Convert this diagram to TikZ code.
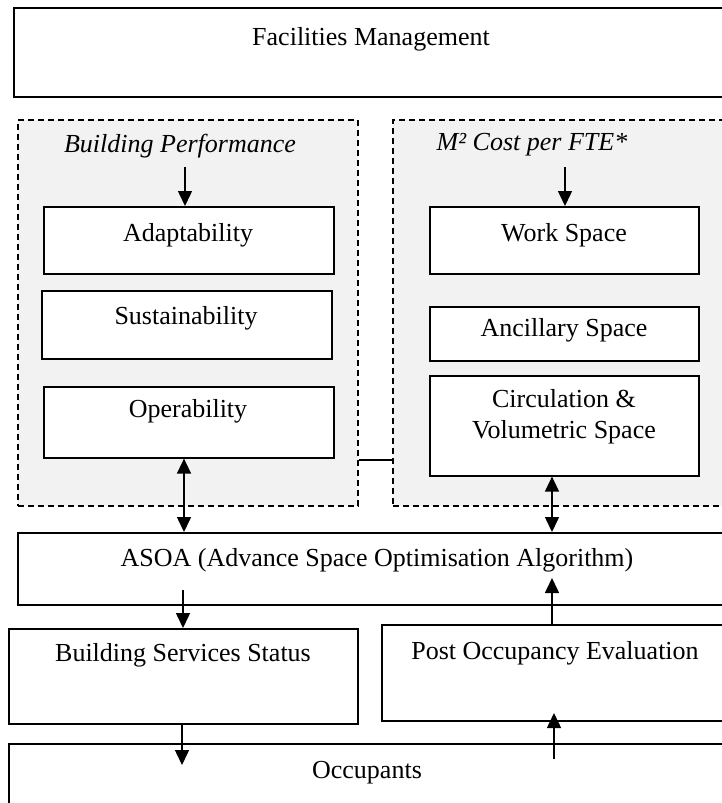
\documentclass[tikz,border=0pt]{standalone}
\usepackage{fontspec}
\setmainfont{Liberation Serif}
\usetikzlibrary{arrows.meta}
\definecolor{grpgray}{HTML}{F2F2F2}
\begin{document}
\begin{tikzpicture}[x=1pt,y=-1pt,
  box/.style={draw=black, fill=white, line width=1.6pt, anchor=north west, inner sep=0pt, rectangle},
  grp/.style={draw=black, fill=grpgray, line width=1.6pt, dash pattern=on 6pt off 4pt, anchor=north west, inner sep=0pt, rectangle},
  txt/.style={inner sep=0pt, font=\fontsize{26}{31}\selectfont, align=center},
  ttl/.style={txt, font=\fontsize{26}{31}\selectfont\itshape},
  arr/.style={line width=1.5pt, -{Triangle[length=15pt,width=14pt]}},
  darr/.style={line width=1.5pt, {Triangle[length=15pt,width=14pt]}-{Triangle[length=15pt,width=14pt]}},
  plain/.style={line width=1.5pt}
]
\useasboundingbox (0,0) rectangle (722,803);
\clip (0,0) rectangle (722,803);
\fill[white] (0,0) rectangle (722,803);

% top box
\node[box, minimum width=727pt, minimum height=89pt] (fm) at (13,7) {};
\node[txt] (fmt) at (371,39) {Facilities Management};

% group boxes
\node[grp, minimum width=340pt, minimum height=386pt] (bpgrp) at (17,119) {};
\node[grp, minimum width=348pt, minimum height=386pt] (costgrp) at (392,119) {};
\draw[plain] (bpgrp.east |- 0,460) -- (costgrp.west |- 0,460);

\node[ttl] (bpt) at (180,146) {Building Performance};
\node[ttl] (cpt) at (532,145) {M² Cost per FTE*};

% left inner boxes
\node[box, minimum width=290pt, minimum height=67pt] (adapt) at (43,206) {};
\node[txt] at (188,235) {Adaptability};
\node[box, minimum width=290pt, minimum height=68pt] (sust) at (41,290) {};
\node[txt] at (186,318) {Sustainability};
\node[box, minimum width=290pt, minimum height=71pt] (oper) at (43,386) {};
\node[txt] at (188,411) {Operability};

% right inner boxes
\node[box, minimum width=269pt, minimum height=67pt] (work) at (429,206) {};
\node[txt] at (564,235) {Work Space};
\node[box, minimum width=269pt, minimum height=54pt] (anc) at (429,306) {};
\node[txt] at (564,330) {Ancillary Space};
\node[box, minimum width=269pt, minimum height=100pt] (circ) at (429,375) {};
\node[txt] at (564,417) {Circulation \&\\Volumetric Space};

% ASOA
\node[box, minimum width=723pt, minimum height=72pt] (asoa) at (17,532) {};
\node[txt] at (377,560) {ASOA (Advance Space Optimisation Algorithm)};

% lower boxes
\node[box, minimum width=349pt, minimum height=95pt] (bss) at (8,628) {};
\node[txt] at (183,655) {Building Services Status};
\node[box, minimum width=359pt, minimum height=96pt] (poe) at (381,624) {};
\node[txt] at (555,653) {Post Occupancy Evaluation};
\node[box, minimum width=732pt, minimum height=80pt] (occ) at (8,743) {};
\node[txt] at (367,773) {Occupants};

% arrows
\coordinate (a1) at (185,167);
\draw[arr] (a1) -- (a1 |- adapt.north);
\coordinate (a2) at (565,167);
\draw[arr] (a2) -- (a2 |- work.north);

\draw[darr] (oper.south -| 184,0) -- (asoa.north -| 184,0);
\draw[darr] (circ.south -| 552,0) -- (asoa.north -| 552,0);

\coordinate (a3) at (183,590);
\draw[arr] (a3) -- (a3 |- bss.north);
\coordinate (a4) at (552,578);
\draw[arr] (a4 |- poe.north) -- (a4);
\coordinate (a5) at (182,765);
\draw[arr] (a5 |- bss.south) -- (a5);
\coordinate (a6) at (554,759);
\coordinate (a7) at (554,713);
\draw[arr] (a6) -- (a7);
\end{tikzpicture}
\end{document}
